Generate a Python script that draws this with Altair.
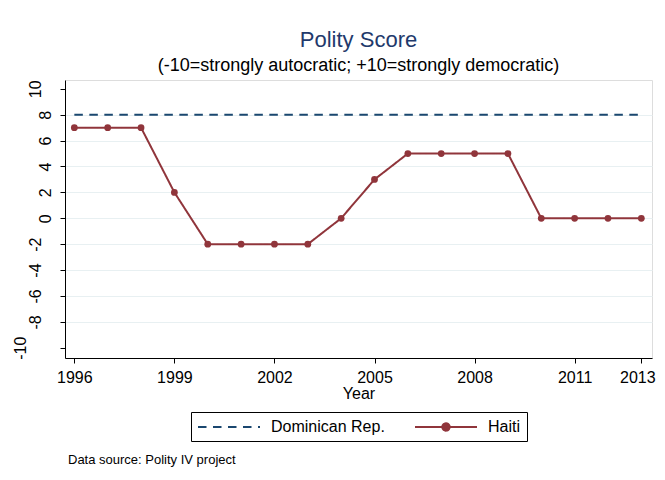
import altair as alt
import pandas as pd

FONT = "Liberation Sans"

years = [1996, 1997, 1998, 1999, 2000, 2001, 2002, 2003, 2004,
         2005, 2006, 2007, 2008, 2009, 2010, 2011, 2012, 2013]
dominican = [8, 8, 8, 8, 8, 8, 8, 8, 8, 8, 8, 8, 8, 8, 8, 8, 8, 8]
haiti = [7, 7, 7, 2, -2, -2, -2, -2, 0, 3, 5, 5, 5, 5, 0, 0, 0, 0]
countries = ["Dominican Rep.", "Haiti"]
colors = ["#1a476f", "#90353b"]
x_ticks = [1996, 1999, 2002, 2005, 2008, 2011, 2013]
y_ticks = [-10, -8, -6, -4, -2, 0, 2, 4, 6, 8, 10]
note = ["Data source: Polity IV project"]

df = pd.DataFrame({
    "Year": years + years,
    "Score": dominican + haiti,
    "Country": [countries[0]] * len(years) + [countries[1]] * len(years),
})
note_df = pd.DataFrame({"note": note})

# legend symbols: 16px symbol box (scale 8px per unit), drawn 62px wide
line_path = "M-1,0H6.75"
dot_path = "M-1,0H6.75M3.335,0A0.46,0.46,0,1,1,2.415,0A0.46,0.46,0,1,1,3.335,0Z"

legend = alt.Legend(
    title=None, orient="none", legendX=126, legendY=332, direction="horizontal",
    strokeColor="black", padding=6, fillColor="white",
    labelFontSize=16, labelFont=FONT, labelColor="black",
    symbolSize=256, symbolStrokeWidth=2, columnPadding=26, labelOffset=56,
    symbolType=alt.ExprRef(expr="datum.value == 'Haiti' ? '%s' : '%s'" % (dot_path, line_path)),
)

x_enc = alt.X(
    "Year:Q",
    scale=alt.Scale(domain=[1995.72, 2013.32], nice=False, zero=False),
    axis=alt.Axis(values=x_ticks, format="d", title="Year", grid=False,
                  labelFontSize=16, titleFontSize=16, titleFontWeight="normal",
                  labelPadding=6, titlePadding=0, tickSize=5,
                  labelOffset={"condition": {"test": "datum.value == 2013", "value": -4}, "value": 0},
                  labelFont=FONT, titleFont=FONT, labelColor="black",
                  titleColor="black", domainColor="black", tickColor="black"),
)
y_enc = alt.Y(
    "Score:Q",
    scale=alt.Scale(domain=[-10.79, 10.68], nice=False, zero=False),
    axis=alt.Axis(values=y_ticks, title=None, labelAngle=270,
                  labelExpr="'' + datum.value",
                  labelFontSize=16, labelFont=FONT, labelColor="black",
                  labelPadding=alt.ExprRef(
                      expr="datum.value == -10 ? 32 : ((datum.value < 0 || datum.value == 10) ? 17 : 7)"),
                  tickSize=5, domainColor="black", tickColor="black",
                  grid=True, gridColor="#e8f0f2", gridWidth=1,
                  gridOpacity={"condition": {"test": "abs(datum.value) == 10", "value": 0}, "value": 1}),
)

color_enc = alt.Color("Country:N", scale=alt.Scale(domain=countries, range=colors),
                      legend=legend)

lines = alt.Chart(df).mark_line(strokeWidth=2).encode(
    x=x_enc,
    y=y_enc,
    color=color_enc,
    strokeDash=alt.StrokeDash("Country:N",
                              scale=alt.Scale(domain=countries, range=[[8.5, 6.5], [1, 0]]),
                              legend=legend),
)

points = alt.Chart(df).transform_filter(
    alt.datum.Country == "Haiti"
).mark_point(filled=True, size=46, opacity=1, shape="circle").encode(
    x=x_enc,
    y=y_enc,
    color=color_enc,
)

note_text = alt.Chart(note_df).mark_text(
    align="left", baseline="alphabetic", fontSize=13, font=FONT, color="black"
).encode(x=alt.value(3), y=alt.value(384), text="note:N")

chart = alt.layer(lines, points, note_text).properties(
    width=587,
    height=278,
    autosize=alt.AutoSizeParams(type="none"),
    padding={"left": 57, "top": 72, "right": 5, "bottom": 110},
    title=alt.TitleParams(
        text="Polity Score",
        subtitle="(-10=strongly autocratic; +10=strongly democratic)",
        fontSize=22, subtitleFontSize=18, color="#1f3a6c", subtitleColor="black",
        fontWeight="normal", anchor="middle", frame="group", offset=4,
        subtitlePadding=5, font=FONT, subtitleFont=FONT,
    ),
).configure_view(stroke=None).configure(background="white")

chart.save("out.html", embed_options={"renderer": "svg", "actions": False})
